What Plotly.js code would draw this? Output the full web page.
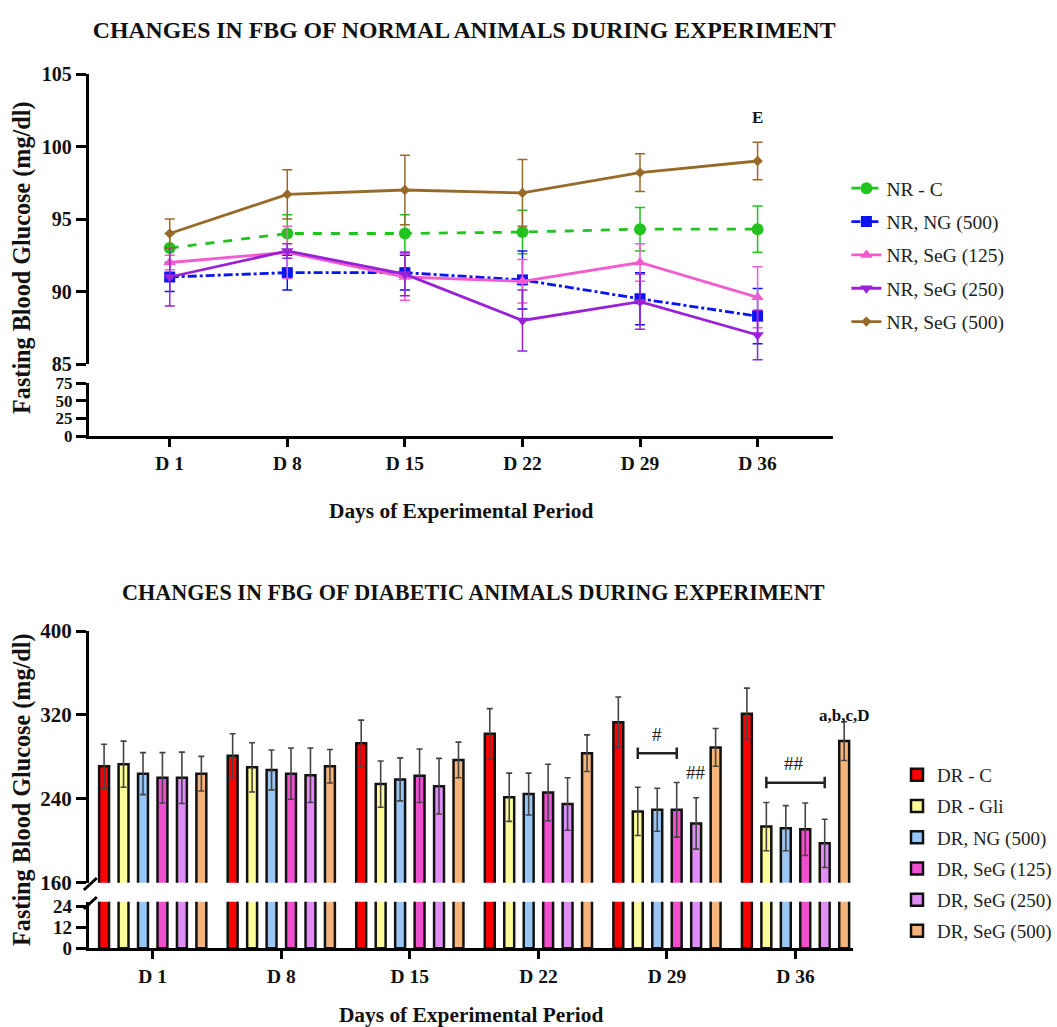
<!DOCTYPE html>
<html>
<head>
<meta charset="utf-8">
<script src="https://cdn.plot.ly/plotly-3.0.1.min.js"></script>
<style>html,body{margin:0;padding:0;background:#fff;}#chart{width:1057px;height:1027px;}</style>
</head>
<body>
<div id="chart"></div>
<script>
// ---------- data ----------
const days = ['D 1', 'D 8', 'D 15', 'D 22', 'D 29', 'D 36'];

// Normal animals (mean, SE)
const nrC        = [93.0, 94.0, 94.0, 94.1, 94.3, 94.3];
const nrC_se     = [1.0, 1.3, 1.3, 1.5, 1.5, 1.6];
const nrNG500    = [91.0, 91.3, 91.3, 90.8, 89.5, 88.3];
const nrNG500_se = [1.0, 1.2, 1.2, 2.0, 1.8, 1.9];
const nrSeG125    = [92.0, 92.7, 91.0, 90.7, 92.0, 89.6];
const nrSeG125_se = [0.5, 1.8, 1.6, 1.5, 1.3, 2.1];
const nrSeG250    = [91.0, 92.8, 91.2, 88.0, 89.3, 87.0];
const nrSeG250_se = [2.0, 0.5, 1.5, 2.1, 1.9, 1.7];
const nrSeG500    = [94.0, 96.7, 97.0, 96.8, 98.2, 99.0];
const nrSeG500_se = [1.0, 1.7, 2.4, 2.3, 1.3, 1.3];

// Diabetic animals (mean, SE)
const drC        = [271, 281, 293, 302, 313, 321];
const drC_se     = [21, 21, 22, 24, 24, 24.5];
const drGli      = [273, 270, 254, 241.5, 228, 213.5];
const drGli_se   = [22, 23.5, 22, 23, 23, 23];
const drNG500    = [264, 267.5, 258.5, 244.5, 229.5, 212];
const drNG500_se = [20, 19, 20.5, 20, 20.5, 21.5];
const drSeG125    = [260, 264, 262, 246, 229.5, 211];
const drSeG125_se = [24, 24.5, 25.5, 27, 26, 25];
const drSeG250    = [260, 262.5, 252, 235, 216.5, 197.5];
const drSeG250_se = [24.5, 26, 26.5, 25, 24.5, 23];
const drSeG500    = [264, 271, 277, 283.5, 289, 295];
const drSeG500_se = [16.5, 16, 17, 17.5, 18, 18.5];

// ---------- styling ----------
const SERIF = 'Liberation Serif';
const H = 1027, W = 1057;
const py = p => 1 - p / H;   // pixel row -> paper y
const px = p => p / W;       // pixel col -> paper x

const lineSeries = [
  ['NR - C', nrC, nrC_se, '#22c31f', 'dash', 'circle', 12],
  ['NR, NG (500)', nrNG500, nrNG500_se, '#0a14f0', 'dashdot', 'square', 11],
  ['NR, SeG (125)', nrSeG125, nrSeG125_se, '#f25ccf', 'solid', 'triangle-up', 11],
  ['NR, SeG (250)', nrSeG250, nrSeG250_se, '#9a22d6', 'solid', 'triangle-down', 11],
  ['NR, SeG (500)', nrSeG500, nrSeG500_se, '#976a2a', 'solid', 'diamond', 8]
];

const traces = [];
lineSeries.forEach(function (s) {
  // upper segment of the broken axis
  traces.push({
    type: 'scatter', mode: 'lines+markers', name: s[0], x: days, y: s[1],
    xaxis: 'x', yaxis: 'y', legend: 'legend', legendgroup: s[0],
    line: {color: s[3], width: 2.8, dash: s[4]},
    marker: {color: s[3], symbol: s[5], size: s[6]},
    error_y: {type: 'data', array: s[2], visible: true, color: s[3], thickness: 1.5, width: 5}
  });
  // lower segment (0-75) of the broken axis: same data, clipped
  traces.push({
    type: 'scatter', mode: 'lines', name: s[0], x: days, y: s[1],
    xaxis: 'x', yaxis: 'y2', legendgroup: s[0], showlegend: false,
    line: {color: s[3], width: 2.8, dash: s[4]}
  });
});

const barSeries = [
  ['DR - C', drC, drC_se, '#ff0000'],
  ['DR - Gli', drGli, drGli_se, '#fdfc9a'],
  ['DR, NG (500)', drNG500, drNG500_se, '#99c6f5'],
  ['DR, SeG (125)', drSeG125, drSeG125_se, '#f24fd0'],
  ['DR, SeG (250)', drSeG250, drSeG250_se, '#e08ef7'],
  ['DR, SeG (500)', drSeG500, drSeG500_se, '#f6b47a']
];

barSeries.forEach(function (s) {
  traces.push({
    type: 'bar', name: s[0], x: days, y: s[1], xaxis: 'x2', yaxis: 'y3',
    legend: 'legend2', legendgroup: s[0],
    marker: {color: s[3], line: {color: '#111', width: 2.5}},
    error_y: {type: 'data', array: s[2], visible: true, color: '#444', thickness: 1.6, width: 3}
  });
  traces.push({
    type: 'bar', name: s[0], x: days, y: s[1], xaxis: 'x2', yaxis: 'y4',
    legendgroup: s[0], showlegend: false,
    marker: {color: s[3], line: {color: '#111', width: 2.5}}
  });
});

const tickFont = {family: SERIF, size: 20, color: '#111', weight: 'bold'};
const smallTickFont = {family: SERIF, size: 17, color: '#111', weight: 'bold'};
const axLine = {showline: true, linecolor: '#000', linewidth: 3, ticks: 'outside',
  tickcolor: '#000', tickwidth: 3, showgrid: false, zeroline: false, fixedrange: true};

const layout = {
  width: W, height: H,
  margin: {l: 0, r: 0, t: 0, b: 0},
  paper_bgcolor: '#fff', plot_bgcolor: 'rgba(0,0,0,0)',
  font: {family: SERIF, color: '#111'},
  barmode: 'group', bargap: 0.092, bargroupgap: 0.49,
  title: {text: 'CHANGES IN FBG OF NORMAL ANIMALS DURING EXPERIMENT',
    x: px(465), xanchor: 'center', y: py(30), yanchor: 'middle', xref: 'paper', yref: 'paper',
    font: {family: SERIF, size: 23.8, color: '#111', weight: 'bold'}},
  // ---- top panel ----
  xaxis: Object.assign({}, axLine, {
    domain: [px(89), px(835)], anchor: 'y2', type: 'category',
    range: [-0.688, 5.645], ticklen: 8, tickfont: {family: SERIF, size: 19.5, color: '#111', weight: 'bold'},
    title: {text: 'Days of Experimental Period', standoff: 30,
      font: {family: SERIF, size: 21.4, color: '#111', weight: 'bold'}}
  }),
  yaxis: Object.assign({}, axLine, {
    domain: [py(364), py(74)], anchor: 'x', range: [85, 105], dtick: 5, tick0: 85,
    ticklen: 10, tickfont: tickFont
  }),
  yaxis2: Object.assign({}, axLine, {
    domain: [py(436), py(383)], anchor: 'x', range: [0, 75], tickvals: [0, 25, 50, 75],
    ticklen: 10, tickfont: smallTickFont
  }),
  // ---- bottom panel ----
  xaxis2: Object.assign({}, axLine, {
    domain: [px(89), px(855)], anchor: 'y4', type: 'category',
    range: [-0.497, 5.45], ticklen: 8, tickfont: {family: SERIF, size: 19.5, color: '#111', weight: 'bold'},
    title: {text: 'Days of Experimental Period', standoff: 22,
      font: {family: SERIF, size: 21.4, color: '#111', weight: 'bold'}}
  }),
  yaxis3: Object.assign({}, axLine, {
    domain: [py(882.7), py(631)], anchor: 'x2', range: [160, 400], tickvals: [160, 240, 320, 400],
    ticklen: 10, tickfont: {family: SERIF, size: 21, color: '#111', weight: 'bold'}
  }),
  yaxis4: Object.assign({}, axLine, {
    domain: [py(948.3), py(901.7)], anchor: 'x2', range: [0, 26.5], tickvals: [0, 12, 24],
    ticklen: 10, tickfont: {family: SERIF, size: 19, color: '#111', weight: 'bold'}
  }),
  legend: {
    x: px(848), xanchor: 'left', y: py(169), yanchor: 'top',
    bgcolor: 'rgba(0,0,0,0)', tracegroupgap: 5, itemwidth: 30,
    font: {family: SERIF, size: 19.5, color: '#222'}
  },
  legend2: {
    x: px(899), xanchor: 'left', y: py(756), yanchor: 'top',
    bgcolor: 'rgba(0,0,0,0)', tracegroupgap: 3.5, itemwidth: 30,
    font: {family: SERIF, size: 19, color: '#222'}
  },
  annotations: [
    {text: 'CHANGES IN FBG OF DIABETIC ANIMALS DURING EXPERIMENT', xref: 'paper', yref: 'paper',
      x: px(474), y: py(592), xanchor: 'center', yanchor: 'middle', showarrow: false,
      font: {family: SERIF, size: 22.2, color: '#111', weight: 'bold'}},
    {text: 'Fasting Blood Glucose (mg/dl)', xref: 'paper', yref: 'paper', textangle: -90,
      x: px(22), y: py(258), xanchor: 'center', yanchor: 'middle', showarrow: false,
      font: {family: SERIF, size: 24.2, color: '#111', weight: 'bold'}},
    {text: 'Fasting Blood Glucose (mg/dl)', xref: 'paper', yref: 'paper', textangle: -90,
      x: px(22), y: py(790), xanchor: 'center', yanchor: 'middle', showarrow: false,
      font: {family: SERIF, size: 24.2, color: '#111', weight: 'bold'}},
    {text: 'E', xref: 'x', yref: 'y', x: 5, y: 102, showarrow: false,
      font: {family: SERIF, size: 17, color: '#111', weight: 'bold'}},
    {text: '#', xref: 'x2', yref: 'y3', x: 3.92, y: 301, showarrow: false,
      font: {family: SERIF, size: 19, color: '#222'}},
    {text: '##', xref: 'x2', yref: 'y3', x: 4.227, y: 265, showarrow: false,
      font: {family: SERIF, size: 19, color: '#222'}},
    {text: '##', xref: 'x2', yref: 'y3', x: 4.99, y: 274, showarrow: false,
      font: {family: SERIF, size: 19, color: '#222'}},
    {text: 'a,b,c,D', xref: 'x2', yref: 'y3', x: 5.378, y: 319, showarrow: false,
      font: {family: SERIF, size: 17, color: '#111', weight: 'bold'}}
  ],
  shapes: [
    // significance brackets
    {type: 'line', xref: 'x2', yref: 'y3', x0: 3.773, x1: 4.076, y0: 283.4, y1: 283.4, line: {color: '#222', width: 2.5}},
    {type: 'line', xref: 'x2', yref: 'y3', x0: 3.773, x1: 3.773, y0: 278, y1: 289, line: {color: '#222', width: 2.5}},
    {type: 'line', xref: 'x2', yref: 'y3', x0: 4.076, x1: 4.076, y0: 278, y1: 289, line: {color: '#222', width: 2.5}},
    {type: 'line', xref: 'x2', yref: 'y3', x0: 4.773, x1: 5.227, y0: 255.4, y1: 255.4, line: {color: '#222', width: 2.5}},
    {type: 'line', xref: 'x2', yref: 'y3', x0: 4.773, x1: 4.773, y0: 250, y1: 261, line: {color: '#222', width: 2.5}},
    {type: 'line', xref: 'x2', yref: 'y3', x0: 5.227, x1: 5.227, y0: 250, y1: 261, line: {color: '#222', width: 2.5}},
    // axis break marks
    {type: 'line', xref: 'paper', yref: 'paper', x0: px(84), x1: px(97), y0: py(890), y1: py(878), line: {color: '#000', width: 3}},
    {type: 'line', xref: 'paper', yref: 'paper', x0: px(84), x1: px(97), y0: py(909), y1: py(897), line: {color: '#000', width: 3}}
  ]
};

Plotly.newPlot('chart', traces, layout, {displayModeBar: false, staticPlot: true});
</script>
</body>
</html>
